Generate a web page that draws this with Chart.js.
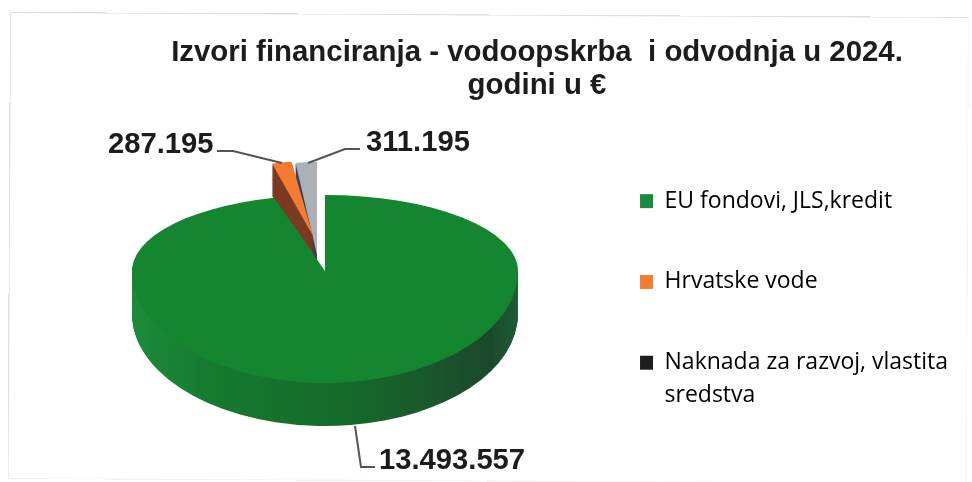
<!DOCTYPE html>
<html>
<head>
<meta charset="utf-8">
<style>
html,body{margin:0;padding:0;background:#fff;}
#wrap{width:972px;height:482px;position:relative;overflow:hidden;}
#frame{position:absolute;left:10px;top:12px;width:957px;height:465px;border:1px solid #dfdfdf;border-right-color:#f4f4f4;border-bottom-color:#f0f0f0;transform:rotate(.3deg);transform-origin:0 0;pointer-events:none;}
</style>
<script src="https://cdn.jsdelivr.net/npm/chart.js@4/dist/chart.umd.min.js"></script>
</head>
<body>
<div id="wrap"><canvas id="c" width="972" height="482"></canvas><div id="frame"></div></div>
<script>
const titleLines = ['Izvori financiranja - vodoopskrba  i odvodnja u 2024.', 'godini u €'];
const categories = ['EU fondovi, JLS,kredit', 'Hrvatske vode', 'Naknada za razvoj, vlastita|sredstva'];
const values = [13493557, 287195, 311195];
const sliceColors = ['#14862f', '#f47b30', '#a9b0b6'];
const sideColors = [null, '#7a3b22', '#3b4058'];
const legendColors = ['#1a8a3c', '#f47b30', '#1e1e1e'];

const pieView = [
  {x: 325, y: 271, rx: 193, up: 76, down: 112, depth: 43},
  {x: 313, y: 236, rx: 155, up: 75, down: 75, depth: 32},
  {x: 317, y: 255, rx: 155, up: 93, down: 93, depth: 18}
];
const valueLabels = [
  {x: 379, y: 449, line: [[355, 426], [361, 467], [375, 467]]},
  {x: 108, y: 133, line: [[217, 151], [233, 151], [282, 163]]},
  {x: 366, y: 131, line: [[360, 149], [345, 149], [308, 163]]}
];
const fmt = v => String(v).replace(/\B(?=(\d{3})+$)/g, '.');

function withFill(el, color, fn) {
  const o = el.options;
  el.options = {...o, backgroundColor: color};
  fn();
  el.options = o;
}
function place(ctx, el, v, sy, dy) {
  ctx.translate(v.x, v.y + dy);
  ctx.scale(v.rx / el.outerRadius, sy / el.outerRadius);
  ctx.translate(-el.x, -el.y);
}

const pie3d = {
  id: 'pie3d',
  beforeDatasetsDraw(chart) {
    const ctx = chart.ctx;
    const arcs = chart.getDatasetMeta(0).data;
    // exploded small slices first, the large one covers their feet
    [2, 1].forEach(i => {
      const el = arcs[i], v = pieView[i];
      for (let d = v.depth; d >= 1; d--) {
        ctx.save();
        place(ctx, el, v, v.up, d);
        withFill(el, sideColors[i], () => el.draw(ctx));
        ctx.restore();
      }
      ctx.save();
      place(ctx, el, v, v.up, 0);
      el.draw(ctx);
      ctx.restore();
    });
    const el = arcs[0], v = pieView[0];
    const g = ctx.createLinearGradient(el.x - el.outerRadius, 0, el.x + el.outerRadius, 0);
    g.addColorStop(0, '#1b8c3a');
    g.addColorStop(0.2, '#167a30');
    g.addColorStop(0.55, '#156a2a');
    g.addColorStop(0.78, '#1a572b');
    g.addColorStop(0.93, '#1b482b');
    g.addColorStop(1, '#1f5c36');
    for (let d = v.depth; d >= 1; d--) {
      ctx.save();
      ctx.beginPath();
      ctx.rect(0, v.y + d, chart.width, chart.height);
      ctx.clip();
      place(ctx, el, v, v.down, d);
      withFill(el, g, () => el.draw(ctx));
      ctx.restore();
    }
    ctx.save();
    ctx.beginPath();
    ctx.rect(0, 0, chart.width, v.y);
    ctx.clip();
    place(ctx, el, v, v.up, 0);
    el.draw(ctx);
    ctx.restore();
    ctx.save();
    ctx.beginPath();
    ctx.rect(0, v.y, chart.width, chart.height);
    ctx.clip();
    place(ctx, el, v, v.down, 0);
    el.draw(ctx);
    ctx.restore();
    return false;
  },
  afterDraw(chart) {
    const ctx = chart.ctx;
    ctx.save();
    ctx.strokeStyle = '#555';
    ctx.lineWidth = 2;
    ctx.fillStyle = '#1c1c1c';
    ctx.font = 'bold 29.2px "Liberation Sans"';
    ctx.textBaseline = 'alphabetic';
    ctx.textAlign = 'left';
    values.forEach((val, i) => {
      const l = valueLabels[i];
      ctx.beginPath();
      l.line.forEach((p, k) => k ? ctx.lineTo(p[0], p[1]) : ctx.moveTo(p[0], p[1]));
      ctx.stroke();
      ctx.fillText(fmt(val), l.x, l.y + 20);
    });
    ctx.restore();
  }
};

new Chart(document.getElementById('c'), {
  type: 'pie',
  data: {
    labels: categories,
    datasets: [{data: values, backgroundColor: sliceColors, borderWidth: 0, radius: 193}]
  },
  plugins: [pie3d],
  options: {
    responsive: false,
    animation: false,
    layout: {padding: {left: 116, right: 14, top: 0, bottom: 50}},
    plugins: {
      tooltip: {enabled: false},
      title: {
        display: true,
        text: titleLines,
        color: '#1c1c1c',
        font: {family: '"Liberation Sans"', size: 29.4, weight: 'bold', lineHeight: 1.13},
        padding: {top: 36, bottom: 20}
      },
      legend: {
        position: 'right',
        align: 'end',
        labels: {
          color: '#1c1c1c',
          font: {family: '"Open Sans"', size: 23, lineHeight: 1.43},
          boxWidth: 13,
          boxHeight: 14,
          padding: 15,
          generateLabels() {
            return categories.map((t, i) => {
              const p = t.split('|');
              return {
                text: p.length > 1 ? p : [p[0], ''],
                fillStyle: legendColors[i],
                strokeStyle: 'transparent',
                lineWidth: 0,
                hidden: false,
                index: i
              };
            });
          }
        }
      }
    }
  }
});
</script>
</body>
</html>
